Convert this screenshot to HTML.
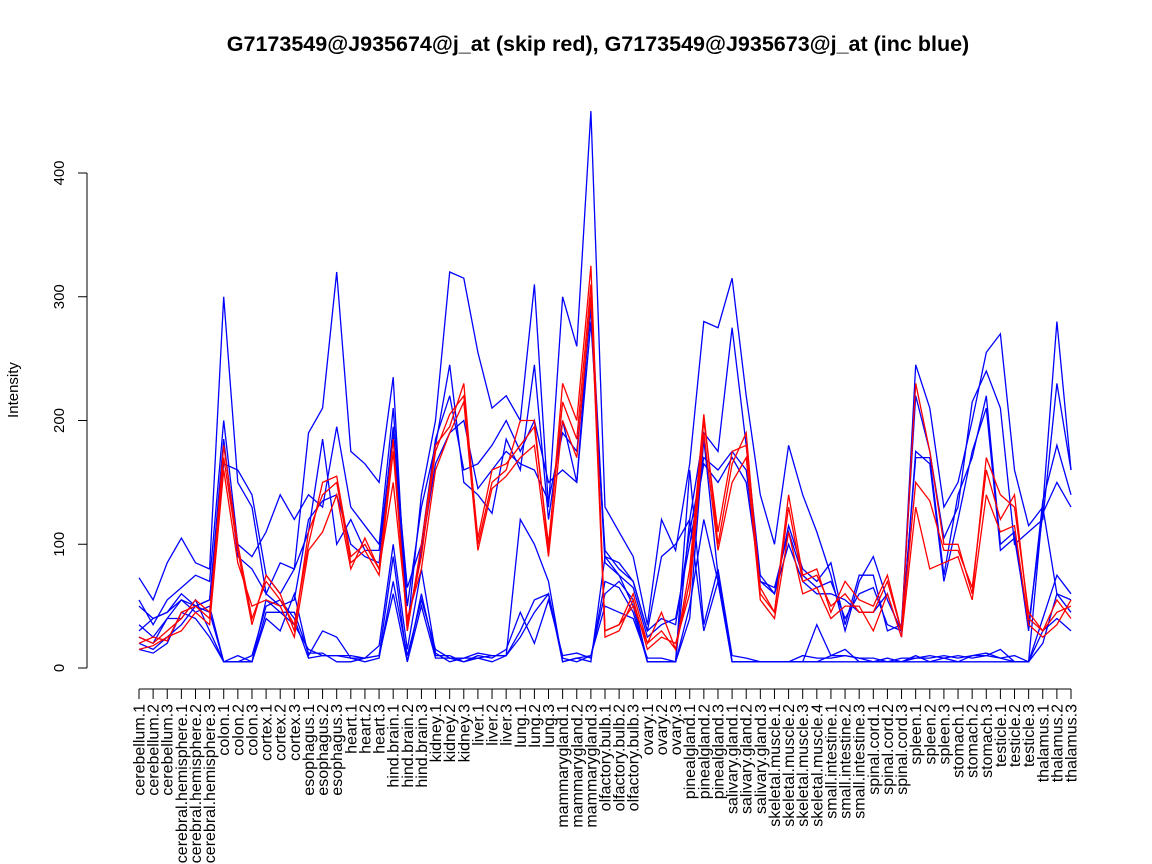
<!DOCTYPE html>
<html><head><meta charset="utf-8"><style>
body{margin:0;background:#fff}
svg{display:block;font-family:"Liberation Sans",sans-serif}
</style></head><body>
<svg id="chart" width="1152" height="864">
<text x="598" y="51" text-anchor="middle" font-size="21.5" font-weight="bold">G7173549@J935674@j_at (skip red), G7173549@J935673@j_at (inc blue)</text>
<text transform="translate(18,390) rotate(-90)" text-anchor="middle" font-size="15">Intensity</text>
<g id="yaxis"></g>
<g id="xaxis"></g>
<g id="series"></g>
</svg>
<script>
const categories=["cerebellum.1","cerebellum.2","cerebellum.3","cerebral.hemisphere.1","cerebral.hemisphere.2","cerebral.hemisphere.3","colon.1","colon.2","colon.3","cortex.1","cortex.2","cortex.3","esophagus.1","esophagus.2","esophagus.3","heart.1","heart.2","heart.3","hind.brain.1","hind.brain.2","hind.brain.3","kidney.1","kidney.2","kidney.3","liver.1","liver.2","liver.3","lung.1","lung.2","lung.3","mammarygland.1","mammarygland.2","mammarygland.3","olfactory.bulb.1","olfactory.bulb.2","olfactory.bulb.3","ovary.1","ovary.2","ovary.3","pinealgland.1","pinealgland.2","pinealgland.3","salivary.gland.1","salivary.gland.2","salivary.gland.3","skeletal.muscle.1","skeletal.muscle.2","skeletal.muscle.3","skeletal.muscle.4","small.intestine.1","small.intestine.2","small.intestine.3","spinal.cord.1","spinal.cord.2","spinal.cord.3","spleen.1","spleen.2","spleen.3","stomach.1","stomach.2","stomach.3","testicle.1","testicle.2","testicle.3","thalamus.1","thalamus.2","thalamus.3"];
const yTicks=[0,100,200,300,400];
const red1=[20,25,22,45,50,40,180,100,40,70,55,35,100,150,155,90,100,80,185,30,100,180,195,230,100,150,160,200,200,95,230,200,325,30,35,60,20,45,15,80,205,100,165,190,60,45,140,75,80,45,70,55,50,75,30,230,175,100,100,60,170,140,130,45,30,55,40];
const red2=[15,18,25,30,45,35,160,85,50,55,50,25,95,110,140,80,105,80,150,40,80,160,190,215,95,145,155,170,180,90,200,170,300,25,30,55,15,25,20,60,190,95,150,170,55,40,110,60,65,40,50,50,30,60,25,130,80,85,90,55,140,110,115,35,25,35,55];
const red3=[25,20,30,40,55,45,170,95,35,75,60,30,110,140,150,85,95,75,175,35,90,175,205,220,105,160,165,180,195,100,215,185,310,30,35,50,20,30,15,70,200,110,175,180,65,45,130,70,75,50,60,45,45,70,30,150,135,95,95,65,160,120,140,40,30,45,50];
const blue1=[73,55,85,105,85,80,300,150,130,60,85,80,190,210,320,175,165,150,235,30,140,200,320,315,255,210,220,200,310,130,300,260,450,130,110,90,35,120,95,165,280,275,315,220,140,100,180,140,110,75,30,70,90,55,30,245,210,130,150,200,255,270,160,115,130,280,160];
const blue2=[55,35,55,65,75,70,200,100,90,110,140,120,140,130,195,130,115,100,210,50,130,180,245,150,140,125,185,160,245,120,200,150,300,90,85,70,30,90,100,120,190,175,275,180,75,60,115,80,70,85,35,75,75,30,35,220,175,105,130,215,240,210,100,110,120,230,160];
const blue3=[50,40,45,60,50,55,165,160,140,75,60,80,110,185,100,120,95,95,190,65,100,185,220,160,165,180,200,175,200,150,160,150,280,95,80,70,30,40,35,110,170,160,175,160,70,65,110,75,65,70,40,60,65,35,30,170,170,75,140,170,220,100,110,30,135,180,140];
const blue4=[35,25,40,55,50,55,185,90,80,60,50,55,120,135,140,100,90,85,195,35,95,165,190,200,145,160,175,165,160,135,190,175,290,85,75,65,25,35,40,100,165,150,170,150,70,60,100,70,60,60,55,45,45,60,25,175,165,70,120,175,210,95,105,35,125,150,130];
const blue5=[15,12,20,45,40,25,5,5,5,55,45,35,15,10,10,8,8,10,90,5,60,10,10,5,8,5,10,120,100,70,5,8,5,90,75,50,5,5,5,160,35,80,10,8,5,5,5,5,5,5,5,5,5,5,5,5,5,5,5,5,5,5,5,5,20,60,45];
const blue6=[25,20,40,40,55,30,5,10,5,40,30,60,10,30,25,8,5,8,70,10,55,15,8,5,10,8,15,45,20,55,10,12,8,70,65,45,5,5,5,40,185,75,5,5,5,5,5,5,35,10,15,5,5,8,5,8,10,8,10,8,10,15,5,5,130,60,55];
const blue7=[20,15,25,35,50,45,5,5,10,50,55,40,8,10,10,10,8,10,60,5,50,8,8,8,12,10,10,30,55,60,5,8,10,50,45,40,8,8,5,120,30,70,5,5,5,5,5,10,8,8,10,8,5,5,8,8,8,10,8,10,10,8,5,5,40,75,60];
const blue8=[30,40,45,55,45,50,5,5,5,45,45,45,12,12,5,5,8,18,100,15,80,12,5,8,8,10,10,25,45,60,8,5,10,60,70,55,5,5,5,50,120,70,5,5,5,5,5,5,5,10,10,8,8,5,5,10,5,8,5,10,12,8,10,5,30,40,30];

const NS="http://www.w3.org/2000/svg";
const X0=139,X1=1071,Y0=668,PPU=(668-173)/400;
const xs=i=>X0+i*(X1-X0)/(categories.length-1);
const ys=v=>Y0-v*PPU;
function mk(t,a,p){const e=document.createElementNS(NS,t);for(const k in a)e.setAttribute(k,a[k]);p.appendChild(e);return e;}
const ya=document.getElementById('yaxis');
const yl=mk('line',{x1:87,x2:87,y1:ys(0),y2:ys(400),stroke:'#000'},ya);


yTicks.forEach(v=>{
 const t=mk('line',{x1:78,x2:87,y1:ys(v),y2:ys(v),stroke:'#000'},ya);
 
 
 const l=mk('text',{transform:`translate(64,${ys(v)}) rotate(-90)`,'text-anchor':'middle','font-size':15},ya);
 l.textContent=v;
 
 
});
const xa=document.getElementById('xaxis');
const xl=mk('line',{x1:xs(0),x2:xs(categories.length-1),y1:689,y2:689,stroke:'#000'},xa);


categories.forEach((c,i)=>{
 const t=mk('line',{x1:xs(i),x2:xs(i),y1:689,y2:699,stroke:'#000'},xa);
 
 
 const l=mk('text',{transform:`translate(${xs(i)+5.5},704) rotate(-90)`,'text-anchor':'end','font-size':16},xa);
 l.textContent=c;
 
 
});
const sg=document.getElementById('series');
const series=[[blue1,'blue'],[blue2,'blue'],[blue3,'blue'],[blue4,'blue'],[blue5,'blue'],[blue6,'blue'],[blue7,'blue'],[blue8,'blue'],[red1,'red'],[red2,'red'],[red3,'red']];
series.forEach(([d,c],k)=>{
 const p=mk('polyline',{points:d.map((v,i)=>xs(i).toFixed(1)+','+ys(v).toFixed(1)).join(' '),fill:'none',stroke:c==='red'?'#ff0000':'#0000ff','stroke-width':1.3},sg);
 
 
});
</script>
</body></html>
